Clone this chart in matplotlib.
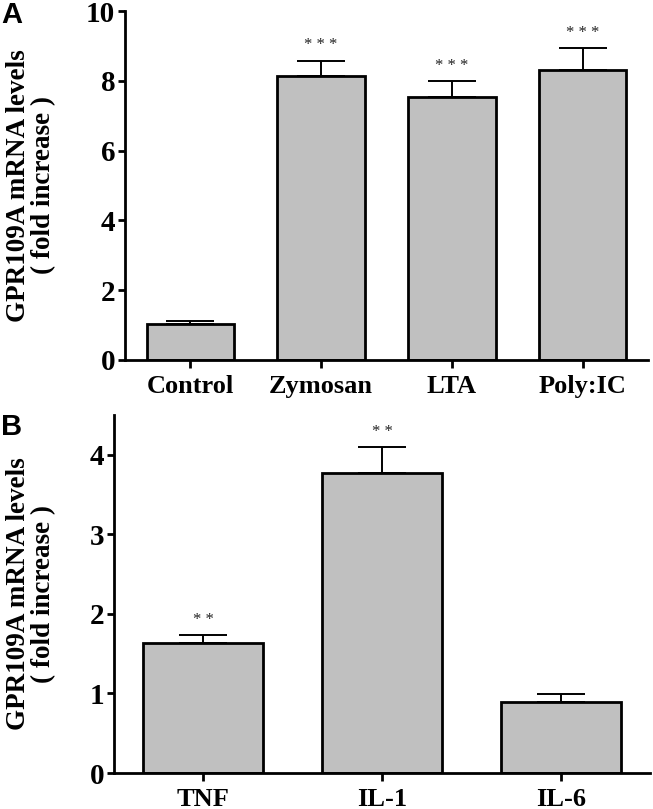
"""GPR109A mRNA levels, two-panel bar chart."""
import matplotlib
matplotlib.use('Agg')
import matplotlib.pyplot as plt

# panel A
cats_a = ['Control', 'Zymosan', 'LTA', 'Poly:IC']
vals_a = [1.02, 8.14, 7.55, 8.30]
errs_a = [0.09, 0.44, 0.44, 0.63]
stars_a = ['', '* * *', '* * *', '* * *']

# panel B
cats_b = ['TNF', 'IL-1', 'IL-6']
vals_b = [1.635, 3.775, 0.888]
errs_b = [0.10, 0.32, 0.10]
stars_b = ['* *', '* *', '']

W, H = 653, 809
BAR_COLOR = '#c0c0c0'
SERIF = 'Liberation Serif'
YLABEL = 'GPR109A mRNA levels\n( fold increase )'


def px_axes(fig, left, top, right, bottom):
    return fig.add_axes([left / W, 1 - bottom / H, (right - left) / W, (bottom - top) / H])


def panel(ax, cats, vals, errs, stars, ylim, yticks):
    x = range(len(cats))
    ax.bar(x, vals, width=0.67, color=BAR_COLOR, edgecolor='black', linewidth=2.0, zorder=2)
    ax.errorbar(x, vals, yerr=[[0] * len(vals), errs], fmt='none', ecolor='black',
                elinewidth=1.4, capsize=17, capthick=1.4, zorder=1)
    for xi, v, e, s in zip(x, vals, errs, stars):
        if s:
            ax.annotate(s, (xi, v + e), xytext=(0, 11), textcoords='offset points',
                        ha='center', va='center', fontsize=12, family=SERIF, color='#222222')
    ax.set_xlim(-0.5, len(cats) - 0.5)
    ax.set_ylim(*ylim)
    ax.set_yticks(yticks)
    ax.set_xticks(list(x))
    ax.set_xticklabels(cats)
    for s in ('top', 'right'):
        ax.spines[s].set_visible(False)
    for s in ('left', 'bottom'):
        ax.spines[s].set_linewidth(2.0)
    ax.tick_params(axis='x', length=6, width=2.0, pad=5)
    ax.tick_params(axis='y', length=5, width=2.0, pad=2)
    for lab in ax.get_xticklabels():
        lab.set_fontfamily(SERIF)
        lab.set_fontweight('bold')
        lab.set_fontsize(19)
    for lab in ax.get_yticklabels():
        lab.set_fontfamily(SERIF)
        lab.set_fontweight('bold')
        lab.set_fontsize(21)
    ax.set_ylabel(YLABEL, family=SERIF, fontweight='bold', fontsize=19.5, linespacing=1.0)


fig = plt.figure(figsize=(W / 100, H / 100), dpi=100)

ax_a = px_axes(fig, 125, 11, 648, 360)
panel(ax_a, cats_a, vals_a, errs_a, stars_a, (0, 10), [0, 2, 4, 6, 8, 10])
ax_a.yaxis.set_label_coords((56 - 125) / 523, 0.5)

ax_b = px_axes(fig, 114, 415, 650, 773)
panel(ax_b, cats_b, vals_b, errs_b, stars_b, (0, 4.5), [0, 1, 2, 3, 4])
ax_b.yaxis.set_label_coords((56 - 114) / 536, 0.5)

fig.text(1 / W, 1 - 1 / H, 'A', family='Liberation Sans', fontweight='bold',
         fontsize=21, ha='left', va='top')
fig.text(1 / W, 1 - 413 / H, 'B', family='Liberation Sans', fontweight='bold',
         fontsize=21, ha='left', va='top')

fig.savefig('out.png', dpi=100)
